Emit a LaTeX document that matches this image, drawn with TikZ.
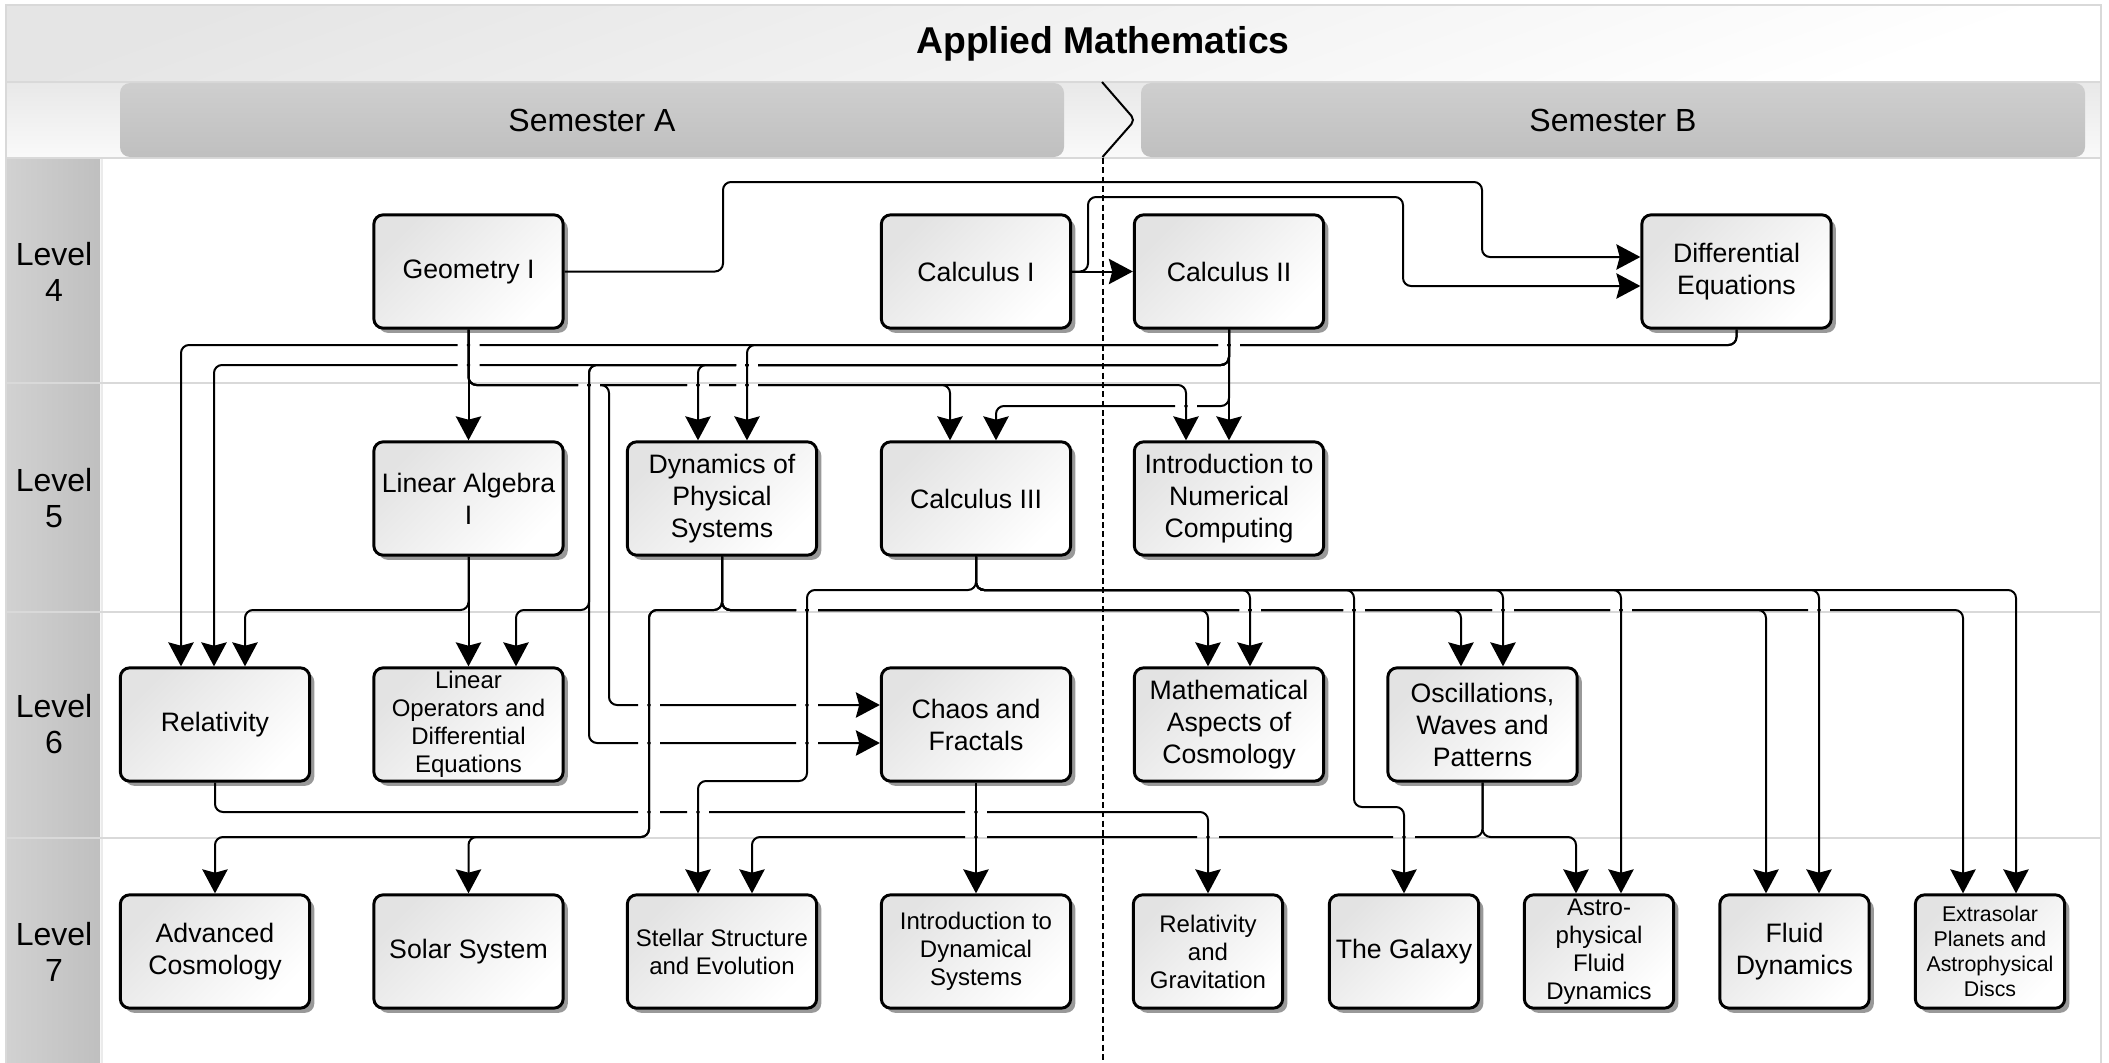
\documentclass[tikz,border=0pt]{standalone}
\usepackage{fontspec}
\setmainfont{Liberation Sans}
\usetikzlibrary{arrows.meta, shadows}

\begin{document}
\begin{tikzpicture}[x = 0.75pt, y = -0.75pt,
    course/.style = {draw, line width = 2.2pt, rounded corners = 7pt, align = center,
        minimum width = 142pt, minimum height = 85pt, inner sep = 1pt,
        top color = black!11, bottom color = white, shading angle = 45,
        drop shadow = {shadow xshift = 3.5pt, shadow yshift = -3.5pt, fill = black!40, opacity = 1},
        font = \fontsize{20}{24}\selectfont},
    narrow/.style = {minimum width = 112pt},
    smalltext/.style = {font = \fontsize{18}{21}\selectfont},
    tinytext/.style = {font = \fontsize{16}{18.75}\selectfont},
    semester/.style = {rounded corners = 7.5pt, minimum width = 708pt, minimum height = 55.5pt,
        top color = black!19, bottom color = black!25, font = \fontsize{24}{27}\selectfont},
    levellabel/.style = {align = center, font = \fontsize{24}{27}\selectfont},
    conn/.style = {-{Stealth[length = 18pt, width = 19pt, inset = 2.5pt]}, line width = 1.5pt,
        rounded corners = 6pt},
    band/.style = {draw = black!15, line width = 2.2pt}]

    \useasboundingbox (0,0) rectangle (2109,1063);

    \shade[top color = black!10, bottom color = white, shading angle = 20] (6,5) rectangle (2101,82);
    \shade[top color = black!9, bottom color = black!2] (6,82) rectangle (2101,158);
    \shade[left color = black!18, right color = black!25] (7,158) rectangle (100,1063);
    \draw[line width = 1.5pt, black!8] (101.5,158) -- (101.5,1063);
    \foreach \y in {82, 158, 383, 612, 838}
        \draw[band] (6,\y) -- (2101,\y);
    \draw[band] (6,1063) |- (2101,5) -- (2101,1063);

    \node[font = \fontsize{28}{32}\selectfont\bfseries] (title) at (1103,44) {Applied Mathematics};
    \node[semester] (semA) at (592,120) {Semester A};
    \node[semester] (semB) at (1613,120) {Semester B};
    \node[levellabel] (lev4) at (54,271.5) {Level\\4};
    \node[levellabel] (lev5) at (54,498.5) {Level\\5};
    \node[levellabel] (lev6) at (54,724.5) {Level\\6};
    \node[levellabel] (lev7) at (54,951.5) {Level\\7};

    \node[course] (geom) at (468.5,271.5) {Geometry I};
    \node[course] (calcI) at (976,271.5) {Calculus I};
    \node[course] (calcII) at (1229,271.5) {Calculus II};
    \node[course] (diffeq) at (1736.5,271.5) {Differential\\Equations};
    \node[course] (linalg) at (468.5,498.5) {Linear Algebra\\I};
    \node[course] (dynphys) at (722,498.5) {Dynamics of\\Physical\\Systems};
    \node[course] (calcIII) at (976,498.5) {Calculus III};
    \node[course] (numcomp) at (1229,498.5) {Introduction to\\Numerical\\Computing};
    \node[course] (relat) at (215,724.5) {Relativity};
    \node[course, smalltext] (linops) at (468.5,724.5) {Linear\\Operators and\\Differential\\Equations};
    \node[course] (chaos) at (976,724.5) {Chaos and\\Fractals};
    \node[course] (mathcos) at (1229,724.5) {Mathematical\\Aspects of\\Cosmology};
    \node[course] (oscil) at (1482.5,724.5) {Oscillations,\\Waves and\\Patterns};
    \node[course] (advcos) at (215,951.5) {Advanced\\Cosmology};
    \node[course] (solsys) at (468.5,951.5) {Solar System};
    \node[course, smalltext] (stellar) at (722,951.5) {Stellar Structure\\and Evolution};
    \node[course, smalltext] (dynsys) at (976,951.5) {Introduction to\\Dynamical\\Systems};
    \node[course, narrow, smalltext] (relgrav) at (1208,951.5) {Relativity\\and\\Gravitation};
    \node[course, narrow] (galaxy) at (1404,951.5) {The Galaxy};
    \node[course, narrow, smalltext] (astrofl) at (1599,951.5) {Astro-\\physical\\Fluid\\Dynamics};
    \node[course, narrow] (fluid) at (1794.5,951.5) {Fluid\\Dynamics};
    \node[course, narrow, tinytext] (exoplan) at (1990,951.5) {Extrasolar\\Planets and\\Astrophysical\\Discs};

    \begin{scope}[even odd rule]
        \clip (0,0) rectangle (2109,1063)
            \foreach \x/\y in {468.5/345, 1229/345, 468.5/365, 747/365, 589/385, 698/385,
                747/385, 1186/406, 807/610, 1250/610, 1354/610, 1503/610, 1621/610, 1819/610,
                649/705, 807/705, 649/743, 807/743, 649/812, 698/812, 976/812, 976/837,
                1208/837, 1404/837}
            {(\x-11,\y-3) rectangle (\x-1.6,\y+3) (\x+1.6,\y-3) rectangle (\x+11,\y+3)};
        \draw[conn] (geom.east) -| (723,182) -| (1482,257) -- (diffeq.west |- 0,257);
        \draw[conn] (geom) -- (linalg);
        \draw[conn] (geom.south) |- (609,385) |- (chaos.west |- 0,705);
        \draw[conn] (geom.south) |- (950,385) -- (calcIII.north -| 950,0);
        \draw[conn] (geom.south) |- (1186,385) -- (numcomp.north -| 1186,0);
        \draw[conn] (calcI) -- (calcII);
        \draw[conn] (calcI.east) -| (1088,197) -| (1403,286) -- (diffeq.west |- 0,286);
        \draw[conn] (calcII) -- (numcomp);
        \draw[conn] (calcII.south) |- (996,406) -- (calcIII.north -| 996,0);
        \foreach \x/\t in {214/relat, 698/dynphys}
            \draw[conn] (calcII.south) |- (\x,365) -- (\t.north -| \x,0);
        \draw[conn] (calcII.south) |- (589,365) |- (516,610) -- (linops.north -| 516,0);
        \draw[conn] (calcII.south) |- (589,365) |- (chaos.west |- 0,743);
        \foreach \x/\t in {181/relat, 747/dynphys}
            \draw[conn] (diffeq.south) |- (\x,345) -- (\t.north -| \x,0);
        \draw[conn] (linalg) -- (linops);
        \draw[conn] (linalg.south) |- (245,610) -- (relat.north -| 245,0);
        \foreach \t in {advcos, solsys}
            \draw[conn] (dynphys.south) |- (649,610) |- (\t.north |- 0,837) -- (\t.north);
        \foreach \x/\t in {1208/mathcos, 1461/oscil, 1766/fluid, 1963/exoplan}
            \draw[conn] (dynphys.south) |- (\x,610) -- (\t.north -| \x,0);
        \draw[conn] (calcIII.south) |- (807,590) |- (698,781) -- (stellar.north -| 698,0);
        \draw[conn] (calcIII.south) |- (1354,590) |- (galaxy.north |- 0,807) -- (galaxy.north);
        \foreach \x/\t in {1250/mathcos, 1503/oscil, 1621/astrofl, 1819/fluid, 2016/exoplan}
            \draw[conn] (calcIII.south) |- (\x,590) -- (\t.north -| \x,0);
        \draw[conn] (relat.south) |- (relgrav.north |- 0,812) -- (relgrav.north);
        \draw[conn] (chaos) -- (dynsys);
        \foreach \x/\t in {752/stellar, 1576/astrofl}
            \draw[conn] (oscil.south) |- (\x,837) -- (\t.north -| \x,0);
    \end{scope}

    \draw[line width = 1.5pt, rounded corners = 4pt] (1102,82) -- (1135,120) -- (1102.5,157);
    \draw[line width = 1.5pt, dash pattern = on 4.5pt off 2.5pt] (1102.5,158) -- (1102.5,1063);
\end{tikzpicture}
\end{document}
